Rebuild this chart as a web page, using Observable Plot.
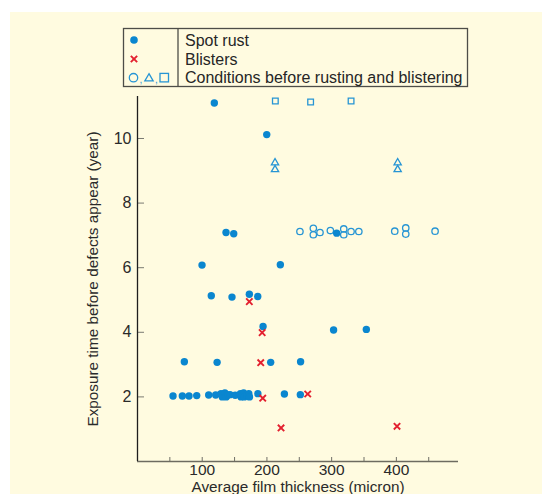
<!DOCTYPE html>
<html>
<head>
<meta charset="utf-8">
<script src="https://cdn.jsdelivr.net/npm/d3@7"></script>
<script src="https://cdn.jsdelivr.net/npm/@observablehq/plot@0.6"></script>
<style>
  html, body { margin: 0; padding: 0; background: #ffffff; width: 542px; height: 494px; overflow: hidden; }
  #panel { position: absolute; left: 10px; top: 12px; width: 532px; height: 482px; background: #fffbe0; }
  #legend { position: absolute; left: 0; top: 0; }
  #chart { position: absolute; left: 10px; top: 90px; }
</style>
</head>
<body>
<div id="panel"></div>
<div id="legend"></div>
<div id="chart"></div>
<script>
// ---- Data ----
const spotX = [118.7, 199.7, 136.8, 148.7, 307.8, 99.7, 220.7, 114, 146, 172.8, 185.8, 194, 303, 353.6,
  72.4, 123, 205.8, 252,
  54.9, 69.3, 79.6, 91.5, 110, 120.8, 129, 131, 135, 137, 140, 143, 151,
  159, 160, 164, 165, 169, 172, 173, 186, 227, 251.6];
const spotY = [11.1, 10.12, 7.09, 7.05, 7.07, 6.08, 6.09, 5.13, 5.09, 5.18, 5.11, 4.18, 4.07, 4.09,
  3.09, 3.07, 3.07, 3.09,
  2.03, 2.03, 2.03, 2.04, 2.06, 2.06, 2.1, 2.0, 2.12, 2.0, 2.06, 2.07, 2.05,
  2.1, 2.0, 2.12, 2.0, 2.05, 2.1, 2.0, 2.1, 2.09, 2.07];

const blisterX = [172.8, 192.6, 190.4, 193.5, 263, 221.8, 401];
const blisterY = [4.95, 3.99, 3.06, 1.96, 2.09, 1.04, 1.09];

const circleX = [251, 271.7, 271.7, 282, 298, 318.7, 318.7, 330, 342, 397.5, 414.5, 414.5, 459.8];
const circleY = [7.12, 7.22, 7.02, 7.09, 7.15, 7.2, 7.02, 7.12, 7.12, 7.13, 7.23, 7.04, 7.13];

const triangleX = [212.5, 212.5, 402, 402];
const triangleY = [9.25, 9.04, 9.25, 9.04];

const squareX = [213, 267.5, 330];
const squareY = [11.16, 11.13, 11.16];

const xTicks = [50, 100, 150, 200, 250, 300, 350, 400, 450];
const xTickLabels = [100, 200, 300, 400];
const yTicks = [2, 4, 6, 8, 10];

const legendLabels = ["Spot rust", "Blisters", "Conditions before rusting and blistering"];
const xTitle = "Average film thickness (micron)";
const yTitle = "Exposure time before defects appear (year)";

// ---- Styles ----
const BLUE = "#0a86cf";
const BLUE_LIGHT = "#2795d4";
const RED = "#e3202f";
const FONT = "'Liberation Sans', Arial, Helvetica, sans-serif";

const toRows = (xs, ys) => xs.map((x, i) => ({x, y: ys[i]}));
const spot = toRows(spotX, spotY);
const blisters = toRows(blisterX, blisterY);
const circles = toRows(circleX, circleY);
const triangles = toRows(triangleX, triangleY);
const squares = toRows(squareX, squareY);

const chart = Plot.plot({
  width: 532,
  height: 404,
  marginLeft: 127,
  marginRight: 84,
  marginTop: 6,
  marginBottom: 33,
  style: {background: "transparent", fontFamily: FONT, color: "#2a2a2a"},
  x: {domain: [0, 496]},
  y: {domain: [0, 11.3]},
  marks: [
    Plot.axisX({
      ticks: xTicks,
      tickSize: -4,
      tickPadding: 6.5,
      tickFormat: d => xTickLabels.includes(d) ? String(d) : "",
      fontSize: 15.5,
      stroke: "#6f6e66",
      label: null
    }),
    Plot.axisY({
      ticks: yTicks,
      tickSize: -7,
      tickPadding: 13,
      fontSize: 16,
      stroke: "#7a7a72",
      label: null
    }),
    Plot.text([xTitle], {text: d => d, frameAnchor: "bottom", textAnchor: "middle", lineAnchor: "middle",
      dy: 25.5, fontSize: 15.3, fill: "#2a2a2a"}),
    Plot.text([yTitle], {text: d => d, frameAnchor: "left", textAnchor: "middle", lineAnchor: "middle",
      rotate: -90, dx: -44, fontSize: 15.3, fill: "#2a2a2a"}),
    Plot.ruleY([0], {stroke: "#6d6b60", strokeWidth: 1.5}),
    Plot.ruleX([0], {stroke: "#1e1e1e", strokeWidth: 1.3}),
    Plot.dot(circles, {x: "x", y: "y", symbol: "circle", r: 3.2, fill: "none", stroke: BLUE_LIGHT, strokeWidth: 1.3}),
    Plot.dot(triangles, {x: "x", y: "y", symbol: "triangle", r: 2.7, fill: "none", stroke: BLUE_LIGHT, strokeWidth: 1.3}),
    Plot.dot(squares, {x: "x", y: "y", symbol: "square", r: 3.2, fill: "none", stroke: BLUE_LIGHT, strokeWidth: 1.3}),
    Plot.dot(spot, {x: "x", y: "y", symbol: "circle", r: 3.7, fill: BLUE, stroke: "none"}),
    Plot.dot(blisters, {x: "x", y: "y", symbol: "times", r: 3, stroke: RED, strokeWidth: 1.9})
  ]
});
document.getElementById("chart").appendChild(chart);

// ---- Legend (box above the plot) ----
const lg = d3.select("#legend").append("svg")
  .attr("width", 542).attr("height", 92)
  .style("font-family", FONT);
lg.append("rect").attr("x", 123.5).attr("y", 28.5).attr("width", 344).attr("height", 58)
  .attr("fill", "none").attr("stroke", "#4d4d48").attr("stroke-width", 1.3);
lg.append("line").attr("x1", 178).attr("x2", 178).attr("y1", 28.5).attr("y2", 86.5)
  .attr("stroke", "#4d4d48").attr("stroke-width", 1.3);
const rowY = [40, 59, 77.7];
lg.append("circle").attr("cx", 134).attr("cy", rowY[0]).attr("r", 3.8).attr("fill", BLUE);
lg.append("path").attr("d", d3.symbol(d3.symbolTimes, 28)())
  .attr("transform", `translate(134,${rowY[1]})`).attr("fill", "none")
  .attr("stroke", RED).attr("stroke-width", 1.9);
lg.append("circle").attr("cx", 133.5).attr("cy", rowY[2]).attr("r", 4.2)
  .attr("fill", "none").attr("stroke", BLUE_LIGHT).attr("stroke-width", 1.3);
lg.append("path").attr("d", d3.symbol(d3.symbolTriangle, 30)())
  .attr("transform", `translate(149,${rowY[2] + 0.8})`).attr("fill", "none")
  .attr("stroke", BLUE_LIGHT).attr("stroke-width", 1.3);
lg.append("rect").attr("x", 160).attr("y", rowY[2] - 4.3).attr("width", 8.5).attr("height", 8.5)
  .attr("fill", "none").attr("stroke", BLUE_LIGHT).attr("stroke-width", 1.3);
[141, 156.5].forEach(cx => lg.append("text").attr("x", cx).attr("y", rowY[2] + 5)
  .attr("font-size", 10).attr("fill", BLUE_LIGHT).attr("text-anchor", "middle").text(","));
legendLabels.forEach((t, i) => {
  lg.append("text").attr("x", 185).attr("y", rowY[i]).attr("dy", "0.36em")
    .attr("font-size", 16).attr("fill", "#262626").text(t);
});
</script>
</body>
</html>
